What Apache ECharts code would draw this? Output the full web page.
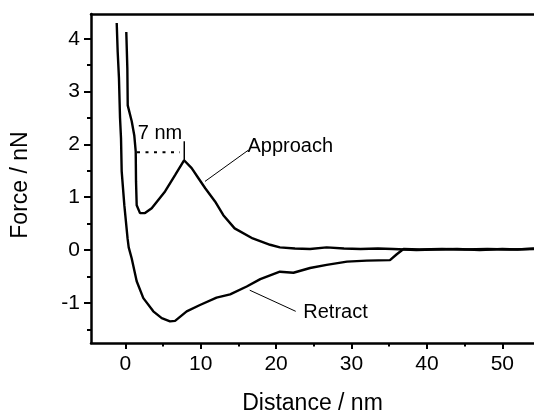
<!DOCTYPE html>
<html><head><meta charset="utf-8">
<script src="https://cdn.jsdelivr.net/npm/echarts@6/dist/echarts.min.js"></script>
<style>html,body{margin:0;padding:0;background:#fff}#c{width:534px;height:412px}</style>
</head><body><div id="c"></div>
<script>
// ---- data ----
const approachX = [0.13,0.27,0.32,0.85,1.19,1.38,1.42,1.51,1.95,2.61,3.5,5.27,6.6,7.79,8.8,9.7,10.6,11.9,13.0,14.5,16.9,19.2,20.5,22.5,24.5,26.7,29,31.2,33.5,35.5,38.6,41,44,47,50,52,54.2];
const approachY = [4.13,3.44,2.74,2.44,2.17,1.87,1.30,0.85,0.70,0.70,0.79,1.11,1.42,1.70,1.55,1.36,1.17,0.92,0.66,0.41,0.22,0.10,0.05,0.03,0.02,0.05,0.03,0.02,0.03,0.02,0.0,0.01,0.02,0.0,0.02,0.01,0.03];
const retractX = [-1.14,-1.01,-0.84,-0.70,-0.57,-0.48,-0.13,0.3,0.45,0.85,1.51,2.39,3.71,4.83,5.93,6.6,8.14,9.9,12.1,13.9,16.1,17.9,19.2,20.5,22.3,24.5,26.7,29.4,32.0,35.1,36.0,36.9,39,42,45,48,51,54.2];
const retractY = [4.30,3.75,3.25,2.50,2.12,1.49,0.85,0.22,0.05,-0.16,-0.59,-0.91,-1.16,-1.29,-1.35,-1.34,-1.16,-1.04,-0.90,-0.84,-0.69,-0.55,-0.48,-0.41,-0.43,-0.34,-0.28,-0.22,-0.20,-0.19,-0.08,0.02,0.01,0.02,0.01,0.02,0.01,0.02];
const xTickLabels = [0,10,20,30,40,50];
const xMinorTicks = [5,15,25,35,45];
const yTickLabels = [-1,0,1,2,3,4];
const yMinorTicks = [-1.5,-0.5,0.5,1.5,2.5,3.5];
const xTitle = 'Distance / nm';
const yTitle = 'Force / nN';
// annotations (data coordinates)
const annoTexts = ['7 nm','Approach','Retract'];
const annoTextPos = [[4.6,2.21],[16.2,1.96],[23.6,-1.19]];
const dottedLine = [[1.55,1.85],[7.25,1.85]];
const peakTick = [[7.82,2.06],[7.82,1.70]];
const approachLeader = [[16.3,1.89],[10.57,1.30]];
const retractLeader = [[22.6,-1.16],[16.5,-0.76]];

const X_MIN = -4.55, X_MAX = 54.2, Y_MIN = -1.76, Y_MAX = 4.47;
const FONT = '"Liberation Sans", Arial, sans-serif';

const chart = echarts.init(document.getElementById('c'), null, {renderer:'canvas'});
const pairs = (xs, ys) => xs.map((x,i)=>[x, ys[i]]);
const axisBase = {type:'value', min:X_MIN, max:X_MAX, splitLine:{show:false}};
const yBase = {type:'value', min:Y_MIN, max:Y_MAX, splitLine:{show:false}};
chart.setOption({
  animation:false,
  backgroundColor:'#fff',
  grid:{left:91, top:14, right:0, bottom:69, containLabel:false, outerBoundsMode:'none'},
  xAxis:[
    Object.assign({}, axisBase, {position:'bottom',
      axisLine:{show:true, onZero:false, lineStyle:{color:'#000', width:2.5}},
      axisTick:{show:true, inside:false, length:6, lineStyle:{color:'#000', width:2}, customValues:xTickLabels},
      axisLabel:{show:true, customValues:xTickLabels, margin:11, color:'#000', fontSize:21, fontFamily:FONT},
      name:xTitle, nameLocation:'middle', nameGap:49,
      nameTextStyle:{color:'#000', fontSize:23, fontFamily:FONT}}),
    Object.assign({}, axisBase, {position:'bottom',
      axisLine:{show:false, onZero:false},
      axisTick:{show:true, length:3.5, lineStyle:{color:'#000', width:2}, customValues:xMinorTicks},
      axisLabel:{show:false}}),
    Object.assign({}, axisBase, {position:'top',
      axisLine:{show:true, onZero:false, lineStyle:{color:'#000', width:2.5}},
      axisTick:{show:false}, axisLabel:{show:false}})
  ],
  yAxis:[
    Object.assign({}, yBase, {position:'left',
      axisLine:{show:true, onZero:false, lineStyle:{color:'#000', width:2.5}},
      axisTick:{show:true, length:7, lineStyle:{color:'#000', width:2}, customValues:yTickLabels},
      axisLabel:{show:true, customValues:yTickLabels, margin:11, color:'#000', fontSize:21, fontFamily:FONT},
      name:yTitle, nameLocation:'middle', nameGap:59, nameRotate:90,
      nameTextStyle:{color:'#000', fontSize:23, fontFamily:FONT, padding:[0,13,0,0]}}),
    Object.assign({}, yBase, {position:'left',
      axisLine:{show:false, onZero:false},
      axisTick:{show:true, length:4, lineStyle:{color:'#000', width:2}, customValues:yMinorTicks},
      axisLabel:{show:false}})
  ],
  series:[
    {type:'line', name:'Approach', xAxisIndex:0, yAxisIndex:0, data:pairs(approachX, approachY),
     showSymbol:false, symbol:'none', lineStyle:{color:'#000', width:2.4}, clip:true},
    {type:'line', name:'Retract', xAxisIndex:0, yAxisIndex:0, data:pairs(retractX, retractY),
     showSymbol:false, symbol:'none', lineStyle:{color:'#000', width:2.4}, clip:true}
  ]
});

const px = p => chart.convertToPixel({xAxisIndex:0, yAxisIndex:0}, p);
const seg = (a, b, style) => { const A = px(a), B = px(b);
  return {type:'line', shape:{x1:A[0], y1:A[1], x2:B[0], y2:B[1]}, style:Object.assign({stroke:'#000'}, style), z:10}; };
const aligns = ['center','left','left'];
const texts = annoTexts.map((t,i)=>{ const P = px(annoTextPos[i]);
  return {type:'text', x:P[0], y:P[1], z:10, style:{text:t, fill:'#000', fontSize:20, fontFamily:FONT, align:aligns[i], verticalAlign:'middle'}}; });
chart.setOption({graphic:[
  seg(dottedLine[0], dottedLine[1], {lineWidth:2, lineDash:[3,5.5]}),
  seg(peakTick[0], peakTick[1], {lineWidth:1.5}),
  seg(approachLeader[0], approachLeader[1], {lineWidth:1}),
  seg(retractLeader[0], retractLeader[1], {lineWidth:1})
].concat(texts)});
</script>
</body></html>
